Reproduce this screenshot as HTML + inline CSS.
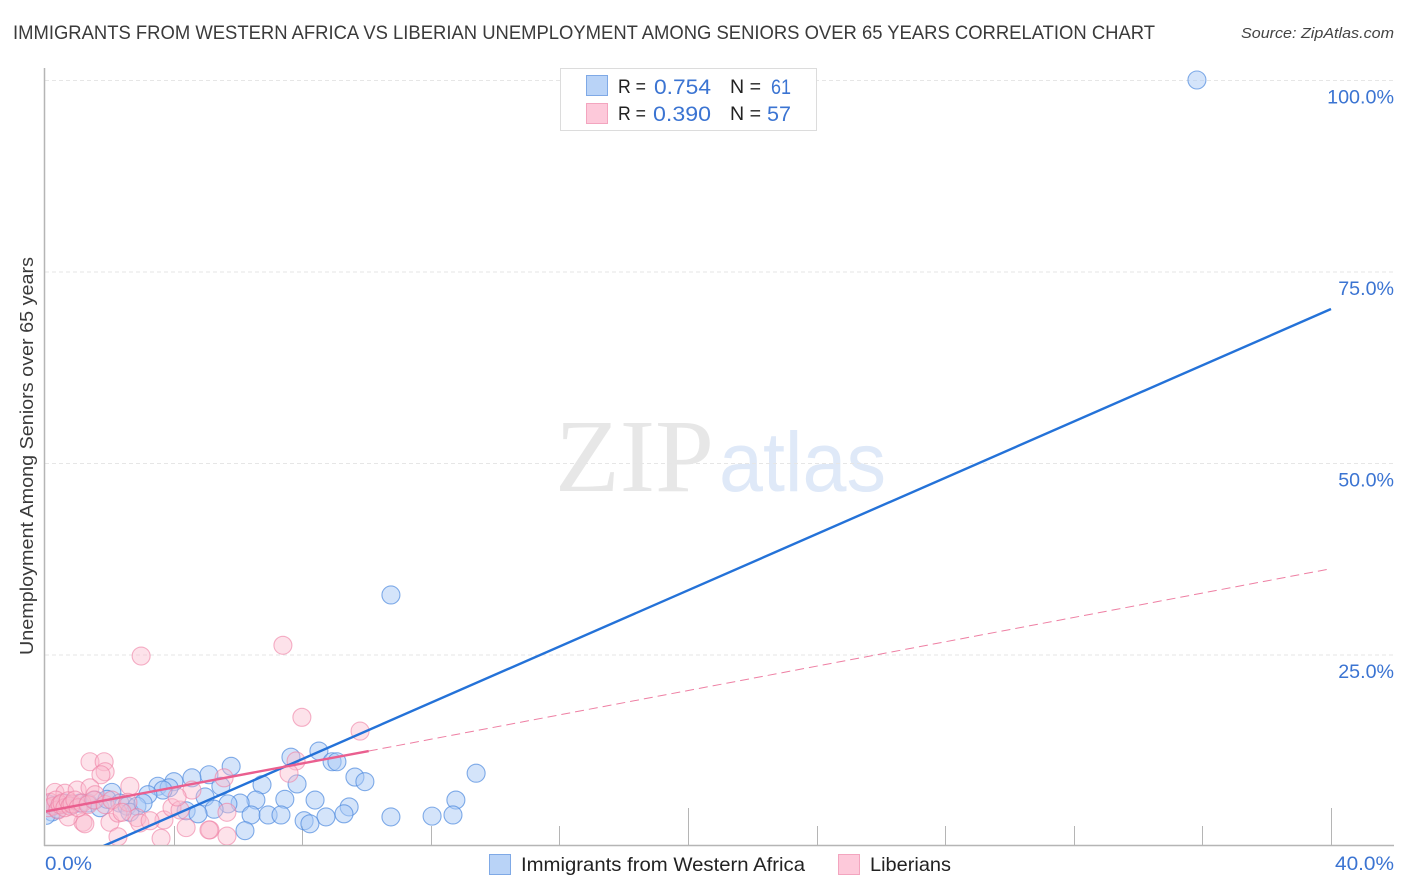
<!DOCTYPE html>
<html>
<head>
<meta charset="utf-8">
<title>Immigrants from Western Africa vs Liberian Unemployment Chart</title>
<style>
html,body{margin:0;padding:0;background:#fff;}
svg{display:block;font-family:"Liberation Sans",sans-serif;}
</style>
</head>
<body>
<svg id="chart" width="1406" height="892" viewBox="0 0 1406 892" xmlns="http://www.w3.org/2000/svg">
  <defs>
    <clipPath id="plot-clip"><rect x="46" y="60" width="1350" height="785"></rect></clipPath>
  </defs>
  <text x="13" y="39" font-size="19" fill="#3a3a3a" textLength="1142" lengthAdjust="spacingAndGlyphs">IMMIGRANTS FROM WESTERN AFRICA VS LIBERIAN UNEMPLOYMENT AMONG SENIORS OVER 65 YEARS CORRELATION CHART</text>
  <text x="1241" y="38" font-size="15" font-style="italic" fill="#444" textLength="153" lengthAdjust="spacingAndGlyphs">Source: ZipAtlas.com</text>

  <text x="555" y="491" font-family="'Liberation Serif',serif" font-size="104" fill="#e7e7e7" textLength="159" lengthAdjust="spacingAndGlyphs">ZIP</text>
  <text x="719" y="491" font-size="84" fill="#dfe9f8" textLength="167" lengthAdjust="spacingAndGlyphs">atlas</text>

  <g id="grid"></g>
  <g id="axes"></g>
  <g id="marks" clip-path="url(#plot-clip)"></g>
  <g id="labels"></g>

  <text transform="translate(33,655) rotate(-90)" font-size="18.5" fill="#3a3a3a" textLength="398" lengthAdjust="spacingAndGlyphs">Unemployment Among Seniors over 65 years</text>

  <g>
    <rect x="560.5" y="68.5" width="256" height="62" fill="#fff" stroke="#dcdcdc"></rect>
    <rect x="586.5" y="75.5" width="21" height="20" fill="#b9d3f7" stroke="#7fa9e6"></rect>
    <rect x="586.5" y="103.5" width="21" height="20" fill="#fdc9da" stroke="#f3a5bf"></rect>
    <text x="618" y="93" font-size="19.5" fill="#222" textLength="28" lengthAdjust="spacingAndGlyphs">R =</text>
    <text x="654" y="94" font-size="21.5" fill="#3b74d2" textLength="57" lengthAdjust="spacingAndGlyphs">0.754</text>
    <text x="730" y="93" font-size="19.5" fill="#222" textLength="31" lengthAdjust="spacingAndGlyphs">N =</text>
    <text x="771" y="94" font-size="21.5" fill="#3b74d2" textLength="20" lengthAdjust="spacingAndGlyphs">61</text>
    <text x="618" y="120" font-size="19.5" fill="#222" textLength="28" lengthAdjust="spacingAndGlyphs">R =</text>
    <text x="653" y="121" font-size="21.5" fill="#3b74d2" textLength="58" lengthAdjust="spacingAndGlyphs">0.390</text>
    <text x="730" y="120" font-size="19.5" fill="#222" textLength="31" lengthAdjust="spacingAndGlyphs">N =</text>
    <text x="767" y="121" font-size="21.5" fill="#3b74d2" textLength="24" lengthAdjust="spacingAndGlyphs">57</text>
  </g>

  <g>
    <rect x="489.5" y="854.5" width="21" height="20" fill="#b9d3f7" stroke="#7fa9e6"></rect>
    <text x="521" y="871" font-size="19.5" fill="#222" textLength="284" lengthAdjust="spacingAndGlyphs">Immigrants from Western Africa</text>
    <rect x="838.5" y="854.5" width="21" height="20" fill="#fdc9da" stroke="#f3a5bf"></rect>
    <text x="870" y="871" font-size="19.5" fill="#222" textLength="81" lengthAdjust="spacingAndGlyphs">Liberians</text>
  </g>
</svg>
<script>
const yTicks = [25, 50, 75, 100];
const yTickLabels = ["25.0%", "50.0%", "75.0%", "100.0%"];
const xMinorTicks = [4, 8, 12, 16, 24, 28, 32, 36];
const xMajorTicks = [20, 40];
const xEndLabels = ["0.0%", "40.0%"];

const blueX = [35.83,10.76,13.41,7.65,8.52,5.79,8.93,9.08,9.64,9.95,7.84,6.75,5.1,4.57,4.01,3.51,3.86,3.67,5.47,2.08,3.2,4.98,6.56,7.46,8.4,12.78,9.46,6.07,5.69,5.26,4.39,4.76,6.41,6.94,7.34,9.3,8.74,10.76,12.04,12.69,8.06,8.24,6.22,0.22,0.03,0.31,0.47,0.62,0.84,1.09,1.34,1.56,1.71,1.93,2.33,2.55,2.86,2.64,3.05,0.1,0.4];
const blueY = [100,32.77,9.5,11.6,12.4,10.4,11,11,9,8.4,8.1,8,9.3,8.9,8.4,7.8,7.6,7.3,7.8,7,6.7,6.4,6,6.1,6,6,5.1,5.6,5.5,4.8,4.6,4.2,4.05,4.05,4.05,4.2,3.8,3.8,3.9,4.05,3.3,2.9,2,4.44,4,5.35,5.35,5.6,5.35,5.6,5.6,6,5,6.1,5.6,5.2,5.2,4.4,5.6,5.5,4.8];

const pinkX = [2.99,7.4,7.99,9.8,7.81,7.59,5.57,4.57,1.4,1.84,1.87,1.74,2.64,0.31,0.62,1,1.4,1.56,1.18,1.24,0.72,2.02,2.27,2.27,2.86,2.95,3.61,3.7,3.27,3.95,4.2,4.39,4.11,5.13,5.1,5.66,5.66,0.09,0.16,0.25,0.34,0.4,0.47,0.53,0.62,0.72,0.78,0.84,0.93,1.03,1.15,1.34,1.52,1.87,2.08,2.58,2.4];
const pinkY = [24.8,26.2,16.8,15,11.1,9.5,8.9,7.3,11,11,9.7,9.3,7.8,7,6.9,7.3,7.6,6.7,3.1,2.9,3.8,3.1,1.2,4.3,3.7,3,1,3.4,3.3,5,4.7,2.4,6.4,2.1,2.1,1.3,4.4,5,5.7,5.2,6,4.7,5.4,5.6,5,5.9,5.2,5.5,6,5,5.6,5.4,6,5.4,6,5.7,4.4];

const blueTrendX = [1.82, 40];
const blueTrendY = [0, 70.1];
const pinkSolidX = [0, 10.07];
const pinkSolidY = [4.5, 12.4];
const pinkDashX = [10.07, 40];
const pinkDashY = [12.4, 36.2];

const NS = "http://www.w3.org/2000/svg";
function sx(v){ return 45 + v * 32.15; }
function sy(v){ return 846 - v * 7.66; }
function make(parent, tag, attrs){
  const el = document.createElementNS(NS, tag);
  for (const k in attrs) el.setAttribute(k, attrs[k]);
  parent.appendChild(el);
  return el;
}
const grid = document.getElementById('grid');
const axes = document.getElementById('axes');
const marks = document.getElementById('marks');
const labels = document.getElementById('labels');

yTicks.forEach(function(t, i){
  const g = make(grid, 'line', {x1:45, x2:1394, y1:sy(t)+0.5, y2:sy(t)+0.5, stroke:'#e6e6e6', 'stroke-width':1, 'stroke-dasharray':'4 3'});
  
  
  const tx = make(labels, 'text', {x:1394, y:sy(t)+23.5, 'text-anchor':'end', 'font-size':19.5, fill:'#3b74d2', textLength:yTickLabels[i].length * 11.15, lengthAdjust:'spacingAndGlyphs'});
  tx.textContent = yTickLabels[i];
  
  
});

const yAxis = make(axes, 'line', {x1:44.5, x2:44.5, y1:68, y2:846, stroke:'#b5b5b5', 'stroke-width':1.5});


const xAxis = make(axes, 'line', {x1:44, x2:1394, y1:845.5, y2:845.5, stroke:'#b5b5b5', 'stroke-width':1.5});


xMinorTicks.forEach(function(t){
  const l = make(axes, 'line', {x1:Math.round(sx(t))+0.5, x2:Math.round(sx(t))+0.5, y1:826, y2:846, stroke:'#b5b5b5', 'stroke-width':1});
  
  
});
xMajorTicks.forEach(function(t){
  const l = make(axes, 'line', {x1:Math.round(sx(t))+0.5, x2:Math.round(sx(t))+0.5, y1:808, y2:846, stroke:'#b5b5b5', 'stroke-width':1});
  
  
});

const xl0 = make(labels, 'text', {x:45, y:870, 'font-size':19.5, fill:'#3b74d2', textLength:47, lengthAdjust:'spacingAndGlyphs'});
xl0.textContent = xEndLabels[0];


const xl1 = make(labels, 'text', {x:1335, y:870, 'font-size':19.5, fill:'#3b74d2', textLength:59, lengthAdjust:'spacingAndGlyphs'});
xl1.textContent = xEndLabels[1];



blueX.forEach(function(x, i){
  const c = make(marks, 'circle', {cx:sx(x), cy:sy(blueY[i]), r:9, fill:'#a9c9f5', 'fill-opacity':0.5, stroke:'#4f8ade', 'stroke-opacity':0.7, 'stroke-width':1.1});
  
  
});
pinkX.forEach(function(x, i){
  const c = make(marks, 'circle', {cx:sx(x), cy:sy(pinkY[i]), r:9, fill:'#fbb9cd', 'fill-opacity':0.42, stroke:'#ee7fa3', 'stroke-opacity':0.6, 'stroke-width':1.1});
  
  
});

const tb = make(marks, 'line', {x1:sx(blueTrendX[0]), y1:sy(blueTrendY[0]), x2:sx(blueTrendX[1]), y2:sy(blueTrendY[1]), stroke:'#2472d8', 'stroke-width':2.4});


const tps = make(marks, 'line', {x1:sx(pinkSolidX[0]), y1:sy(pinkSolidY[0]), x2:sx(pinkSolidX[1]), y2:sy(pinkSolidY[1]), stroke:'#ea5f8f', 'stroke-width':2.4});


const tpd = make(marks, 'line', {x1:sx(pinkDashX[0]), y1:sy(pinkDashY[0]), x2:sx(pinkDashX[1]), y2:sy(pinkDashY[1]), stroke:'#ee7fa3', 'stroke-width':1, 'stroke-dasharray':'9 5'});


</script>
</body>
</html>
